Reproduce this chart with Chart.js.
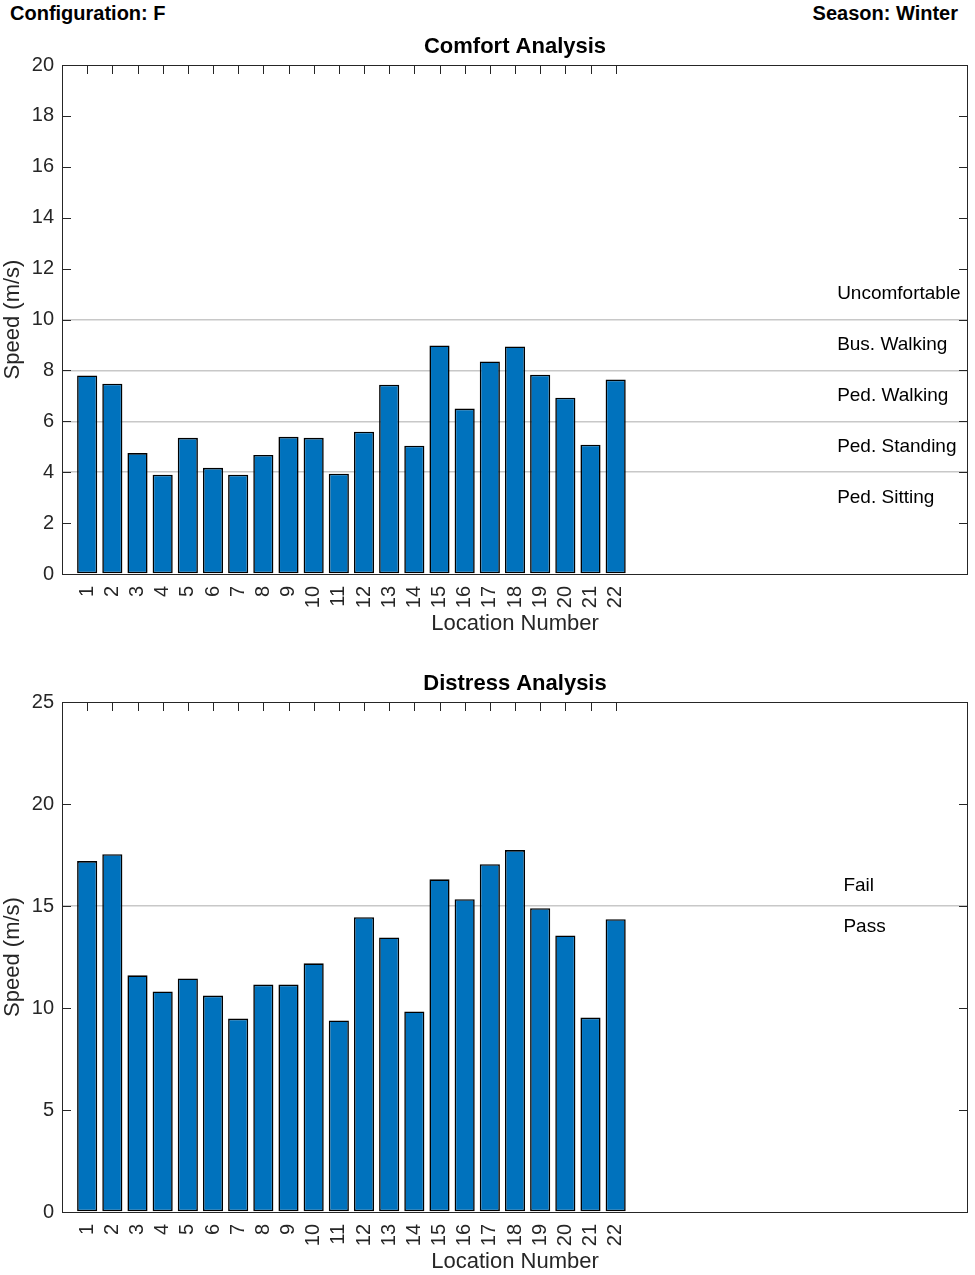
<!DOCTYPE html>
<html>
<head>
<meta charset="utf-8">
<script src="https://cdn.jsdelivr.net/npm/chart.js@4/dist/chart.umd.min.js"></script>
<style>
  body { margin: 0; background: #fff; width: 975px; height: 1275px; position: relative; overflow: hidden; }
  .hdr { position: absolute; top: 2px; font: bold 20px "Liberation Sans", Arial, sans-serif; color: #000; }
  canvas { position: absolute; left: 0; }
</style>
</head>
<body>
<div class="hdr" style="left:10px">Configuration: F</div>
<div class="hdr" style="right:17px">Season: Winter</div>
<canvas id="comfortChart" width="975" height="637" style="top:0px"></canvas>
<canvas id="distressChart" width="975" height="638" style="top:637px"></canvas>
<script>
// location numbers on the x axis
const locations = [1,2,3,4,5,6,7,8,9,10,11,12,13,14,15,16,17,18,19,20,21,22]

// comfort speeds (m/s)
const comfortSpeeds = [7.80,7.48,4.75,3.90,5.35,4.17,3.90,4.68,5.39,5.35,3.94,5.59,
                       7.44,5.04,8.98,6.50,8.35,8.94,7.83,6.93,5.08,7.64]
// distress speeds (m/s)
const distressSpeeds = [17.20,17.54,11.60,10.81,11.45,10.61,9.48,11.15,11.15,12.19,9.39,14.45,
                        13.46,9.83,16.31,15.33,17.05,17.74,14.89,13.56,9.53,14.35]

// threshold lines and the band labels between them
const comfortLimits = [4, 6, 8, 10]
const comfortBands = ["Uncomfortable", "Bus. Walking", "Ped. Walking", "Ped. Standing", "Ped. Sitting"]
const comfortBandY = [11, 9, 7, 5, 3]

const distressLimits = [15]
const distressBands = ["Fail", "Pass"]
const distressBandY = [16, 14]

const FONT = '"Liberation Sans", Arial, sans-serif'
const AXIS = '#262626'

Chart.defaults.font.family = FONT
Chart.defaults.color = AXIS

// matlab style box, inner tick marks, title and band labels
function matlabPlugin(title, bands, bandY, bandX) {
  return {
    id: 'matlab',
    afterDatasetsDraw(chart) {
      const ctx = chart.ctx
      const a = chart.chartArea
      const xs = chart.scales.x, ys = chart.scales.y
      ctx.save()
      ctx.strokeStyle = AXIS
      ctx.lineWidth = 1
      ctx.beginPath()
      xs.ticks.forEach(t => {
        const px = Math.round(xs.getPixelForValue(t.value)) + 0.5
        ctx.moveTo(px, a.top); ctx.lineTo(px, a.top + 9)
      })
      ys.ticks.forEach(t => {
        const py = Math.round(ys.getPixelForValue(t.value)) + 0.5
        ctx.moveTo(a.left, py); ctx.lineTo(a.left + 9, py)
        ctx.moveTo(a.right, py); ctx.lineTo(a.right - 9, py)
      })
      ctx.stroke()
      ctx.strokeRect(Math.round(a.left) + 0.5, Math.round(a.top) + 0.5,
                     Math.round(a.right - a.left) - 1, Math.round(a.bottom - a.top))

      ctx.fillStyle = '#000'
      ctx.font = 'bold 22px ' + FONT
      ctx.textAlign = 'center'
      ctx.textBaseline = 'middle'
      ctx.fillText(title, (a.left + a.right) / 2, a.top - 18)

      ctx.font = '19px ' + FONT
      ctx.textAlign = 'left'
      bands.forEach((b, i) => {
        ctx.fillText(b, xs.getPixelForValue(bandX), ys.getPixelForValue(bandY[i]))
      })
      ctx.restore()
    }
  }
}

function makeChart(id, speeds, yMax, yStep, limits, title, bands, bandY, bandX) {
  return new Chart(document.getElementById(id).getContext('2d'), {
    type: 'bar',
    data: {
      datasets: [{
        data: locations.map((loc, i) => ({ x: loc, y: speeds[i] })),
        backgroundColor: '#0072BD',
        borderColor: '#000',
        borderWidth: 1.6,
        borderSkipped: false,
        barPercentage: 0.8,
        categoryPercentage: 1.0
      }]
    },
    options: {
      responsive: false,
      animation: false,
      devicePixelRatio: 1,
      layout: { padding: { top: 65, right: 7, left: 0, bottom: 0 } },
      plugins: { legend: { display: false }, tooltip: { enabled: false } },
      scales: {
        x: {
          type: 'linear',
          offset: false,
          min: 0, max: 36,
          afterBuildTicks: s => { s.ticks = locations.map(v => ({ value: v })) },
          afterFit: s => { s.height = 63 },
          grid: { display: false, drawTicks: false },
          border: { display: false },
          ticks: {
            autoSkip: false, maxRotation: 90, minRotation: 90, padding: 12,
            font: { size: 20 }, color: AXIS,
            callback: v => String(v)
          },
          title: { display: true, text: 'Location Number', font: { size: 22 }, color: AXIS, padding: { top: 0, bottom: 0 } }
        },
        y: {
          min: 0, max: yMax,
          afterFit: s => { s.width = 62 },
          grid: {
            drawTicks: false,
            lineWidth: 1.5,
            color: c => limits.includes(c.tick.value) ? '#c8c8c8' : 'rgba(0,0,0,0)'
          },
          border: { display: false },
          ticks: { stepSize: yStep, padding: 8, font: { size: 20 }, color: AXIS },
          title: { display: true, text: 'Speed (m/s)', font: { size: 22 }, color: AXIS, padding: 0 }
        }
      }
    },
    plugins: [matlabPlugin(title, bands, bandY, bandX)]
  })
}

makeChart('comfortChart', comfortSpeeds, 20, 2, comfortLimits, 'Comfort Analysis', comfortBands, comfortBandY, 30.8)
makeChart('distressChart', distressSpeeds, 25, 5, distressLimits, 'Distress Analysis', distressBands, distressBandY, 31.05)
</script>
</body>
</html>
